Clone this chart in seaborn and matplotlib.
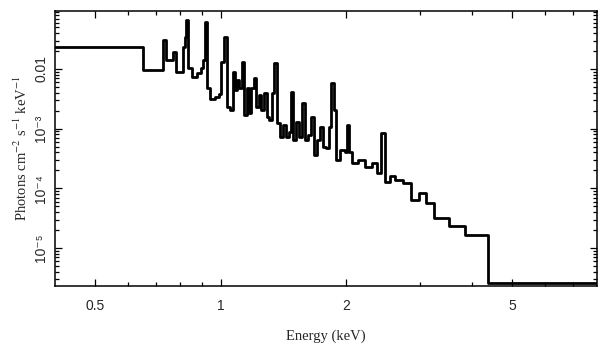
import numpy as np
import matplotlib
matplotlib.use("Agg")
import matplotlib.pyplot as plt
import matplotlib.ticker as mticker
import seaborn as sns

# bin edges (keV) of the folded spectrum, last value closes the final bin
edges = [0.40, 0.649, 0.725, 0.737, 0.766, 0.779, 0.810, 0.819, 0.823, 0.833,
         0.851, 0.875, 0.895, 0.905, 0.915, 0.925, 0.941, 0.967, 0.989, 1.000,
         1.017, 1.034, 1.051, 1.069, 1.081, 1.093, 1.105, 1.124, 1.136, 1.155,
         1.168, 1.181, 1.201, 1.214, 1.235, 1.249, 1.269, 1.291, 1.305, 1.327,
         1.342, 1.364, 1.387, 1.411, 1.434, 1.458, 1.475, 1.491, 1.516, 1.542,
         1.567, 1.594, 1.620, 1.648, 1.675, 1.703, 1.732, 1.761, 1.791, 1.821,
         1.841, 1.872, 1.893, 1.935, 1.990, 2.012, 2.034, 2.069, 2.139, 2.223,
         2.311, 2.376, 2.430, 2.484, 2.554, 2.626, 2.731, 2.854, 2.984, 3.101,
         3.243, 3.524, 3.851, 4.375, 8.0]

# flux per bin (photons cm^-2 s^-1 keV^-1)
flux = [0.0234, 0.00962, 0.0306, 0.01416, 0.0193, 0.00891, 0.0234, 0.0344, 0.0662, 0.0104,
        0.00735, 0.00857, 0.0104, 0.01416, 0.0612, 0.00481, 0.00314, 0.0034, 0.00381, 0.0131,
        0.0344, 0.00231, 0.00206, 0.00891, 0.00445, 0.00654, 0.00481, 0.0131, 0.0017, 0.00481,
        0.00183, 0.00481, 0.00707, 0.00231, 0.00367, 0.00206, 0.00396, 0.00157, 0.0014, 0.00396,
        0.0126, 0.00125, 0.000726, 0.00115, 0.000726, 0.00088, 0.00412, 0.000647, 0.00129, 0.000726,
        0.0027, 0.000647, 0.000784, 0.00157, 0.000363, 0.000647, 0.00107, 0.000494, 0.000475, 0.00107,
        0.00583, 0.00206, 0.000299, 0.00044, 0.000407, 0.00115, 0.000407, 0.000266, 0.000299, 0.000228,
        0.000266, 0.000181, 0.000847, 0.000128, 0.000161, 0.000138, 0.000123, 6.4e-5, 8.4e-5, 5.7e-5,
        3.19e-5, 2.34e-5, 1.66e-5, 2.6e-6]

x_ticks = [0.5, 1, 2, 5]
x_ticklabels = ["0.5", "1", "2", "5"]
x_minor = [0.6, 0.7, 0.8, 0.9, 3, 4, 6, 7]
y_ticks = [1e-5, 1e-4, 1e-3, 1e-2]
y_ticklabels = ["10\u207b\u2075", "10\u207b\u2074", "10\u207b\u00b3", "0.01"]

sns.set_theme(style="ticks")
plt.rcParams["font.family"] = ["Liberation Sans", "DejaVu Sans"]
plt.rcParams["mathtext.fontset"] = "stix"

fig = plt.figure(figsize=(6.09, 3.57), dpi=100)
ax = fig.add_axes([55 / 609, 1 - 286 / 357, 542 / 609, 275 / 357])

sns.lineplot(x=edges, y=flux + [flux[-1]], drawstyle="steps-post",
             color="black", linewidth=2.0, ax=ax)

ax.set_xscale("log")
ax.set_yscale("log")
ax.set_xlim(0.4, 8.0)
ax.set_ylim(2.32e-6, 0.0936)

ax.xaxis.set_major_locator(mticker.FixedLocator(x_ticks))
ax.xaxis.set_major_formatter(mticker.FixedFormatter(x_ticklabels))
ax.xaxis.set_minor_locator(mticker.FixedLocator(x_minor))
ax.xaxis.set_minor_formatter(mticker.NullFormatter())
ax.yaxis.set_major_locator(mticker.FixedLocator(y_ticks))
ax.yaxis.set_major_formatter(mticker.FixedFormatter(y_ticklabels))
ax.yaxis.set_minor_locator(mticker.LogLocator(base=10, subs=np.arange(2, 10)))
ax.yaxis.set_minor_formatter(mticker.NullFormatter())

for s in ax.spines.values():
    s.set_linewidth(1.1)
    s.set_color("black")
ax.tick_params(which="both", direction="in", top=True, right=True,
               color="black", width=0.9)
ax.tick_params(which="major", length=5)
ax.tick_params(which="minor", length=3)
ax.tick_params(axis="x", labelsize=10, pad=9)
ax.tick_params(axis="y", labelsize=10, pad=5, labelrotation=90)
for lab in ax.get_yticklabels():
    lab.set_va("center")

ax.set_xlabel("Energy (keV)", family="Liberation Serif", fontsize=10.5, labelpad=12)
ax.set_ylabel("Photons cm$^{-2}$ s$^{-1}$ keV$^{-1}$", family="Liberation Serif",
              fontsize=10.5, labelpad=3)

fig.savefig("out.png", dpi=100)
